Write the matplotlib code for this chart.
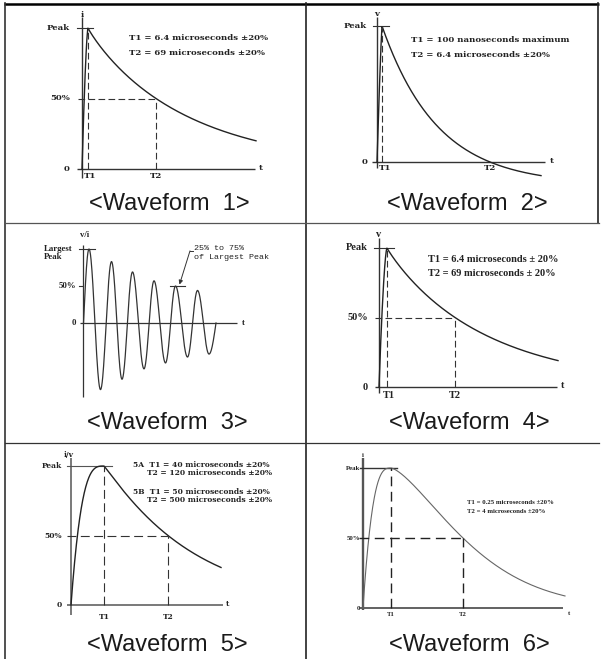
import numpy as np
import matplotlib.pyplot as plt

W, H = 601, 659

# ---- data -------------------------------------------------------------
# t: diagram units measured from the i/v axis, v: fraction of peak
captions = ['<Waveform  1>', '<Waveform  2>', '<Waveform  3>',
            '<Waveform  4>', '<Waveform  5>', '<Waveform  6>']

w1_T1, w1_T2, w1_tend, w1_vend = 6, 74, 174, 0.20
w1_text = ['T1 = 6.4 microseconds ±20%', 'T2 = 69 microseconds ±20%']

w2_T1, w2_T2, w2_tend, w2_vend = 5, 113, 164, -0.10
w2_text = ['T1 = 100 nanoseconds maximum', 'T2 = 6.4 microseconds ±20%']

# ringing wave: zero start, alternating peaks / troughs, zero end
w3_t = [0.5, 6, 17.5, 28.5, 39, 49.5, 61, 71, 82.5, 92.5, 104.5, 114.5, 126, 133]
w3_v = [0, 1.0, -0.90, 0.83, -0.76, 0.69, -0.62, 0.57, -0.54, 0.50, -0.46, 0.44, -0.42, 0]
w3_note = ['25% to 75%', 'of Largest Peak']

w4_T1, w4_T2, w4_tend, w4_vend = 8, 76, 179, 0.19
w4_text = ['T1 = 6.4 microseconds ± 20%', 'T2 = 69 microseconds ± 20%']

w5_T1, w5_T2, w5_tend, w5_vend = 33, 97, 150, 0.27
w5_text = ['5A  T1 = 40 microseconds ±20%', 'T2 = 120 microseconds ±20%',
           '5B  T1 = 50 microseconds ±20%', 'T2 = 500 microseconds ±20%']

w6_T1, w6_T2, w6_tend, w6_vend = 28, 100, 202, 0.086
w6_text = ['T1 = 0.25 microseconds ±20%', 'T2 = 4 microseconds ±20%']

# ---- layout (pixels) --------------------------------------------------
cells = [(5, 4, 306, 223), (306, 4, 598, 223), (5, 223, 306, 443),
         (306, 223, 598, 443), (5, 443, 306, 659), (306, 443, 598, 659)]
origins = [(82, 169), (377, 162), (83, 323), (379, 387), (71, 605), (363, 608)]
peaks_px = [28, 26, 249, 248, 466, 468]
cap_xy = [(169, 204), (467, 204), (167, 423), (469, 423), (167, 645), (469, 645)]

fig = plt.figure(figsize=(W / 100, H / 100), dpi=100)

bg = fig.add_axes([0, 0, 1, 1])
bg.set_xlim(0, W)
bg.set_ylim(H, 0)
bg.axis('off')
bg.plot([4, 599], [4, 4], color='black', lw=1.8, solid_capstyle='butt')
bg.plot([5, 5], [3, H], color='#333', lw=1.2)
bg.plot([306, 306], [3, H], color='#222', lw=1.2)
bg.plot([598, 598], [3, 223], color='#222', lw=1.2)
bg.plot([5, 599], [223, 223], color='#555', lw=0.9)
bg.plot([5, 599], [443, 443], color='#333', lw=0.9)
for (cx, cy), cap in zip(cap_xy, captions):
    bg.text(cx, cy, cap, ha='center', va='center', fontsize=17,
            family='Liberation Sans', color='#1a1a1a')


def make_ax(i):
    l, t, r, b = cells[i]
    ox, oy = origins[i]
    s = oy - peaks_px[i]
    ax = fig.add_axes([l / W, 1 - b / H, (r - l) / W, (b - t) / H])
    ax.set_xlim(l - ox, r - ox)
    ax.set_ylim((oy - b) / s, (oy - t) / s)
    ax.axis('off')
    return ax, s


def pulse(t, T1, T2, tend, vend, k):
    p = np.log(np.log(1 / vend) / np.log(2)) / np.log((tend - T1) / (T2 - T1))
    rise = 1 - np.clip(1 - t / T1, 0, None) ** k
    dec = np.exp(-np.log(2) * (np.clip(t - T1, 0, None) / (T2 - T1)) ** p)
    return np.where(t < T1, rise, dec)


def axes_lines(ax, s, top, bot, x0, x1, color, lwy, lwx):
    ax.plot([0, 0], [top / s, -bot / s], color=color, lw=lwy, solid_capstyle='butt')
    ax.plot([x0, x1], [0, 0], color=color, lw=lwx, solid_capstyle='butt')


def levels(ax, x, labels, vals, **kw):
    for lab, v in zip(labels, vals):
        ax.text(x, v, lab, ha='right', va='center', **kw)


# ---- Waveform 1 -------------------------------------------------------
f1 = dict(family='DejaVu Serif', weight='bold', fontsize=6.1, color='#222')
dash1 = (0, (6, 3))
ax, s = make_ax(0)
axes_lines(ax, s, 152, 9, -5, 173, '#333', 1.0, 1.0)
ax.plot([-5, 11], [1, 1], color='#333', lw=0.8)
t = np.linspace(0, w1_tend, 500)
ax.plot(t, pulse(t, w1_T1, w1_T2, w1_tend, w1_vend, 1.5), color='#222', lw=1.0)
ax.plot([w1_T1, w1_T1], [0, 1], color='#333', lw=0.8, ls=dash1)
ax.plot([-4, w1_T2], [0.5, 0.5], color='#333', lw=0.8, ls=dash1)
ax.plot([w1_T2, w1_T2], [0, 0.5], color='#333', lw=0.8, ls=dash1)
levels(ax, -12, ['Peak', '50%', '0'], [1, 0.5, 0], **f1)
ax.text(0, 1.092, 'i', ha='center', va='center', **f1)
ax.text(179, 0.01, 't', ha='center', va='center', **f1)
ax.text(w1_T1 + 2.5, -0.047, 'T1', ha='center', va='center', **f1)
ax.text(w1_T2, -0.047, 'T2', ha='center', va='center', **f1)
for j, line in enumerate(w1_text):
    ax.text(47, 0.93 - 0.105 * j, line, ha='left', va='center', **f1)

# ---- Waveform 2 -------------------------------------------------------
ax, s = make_ax(1)
axes_lines(ax, s, 145, 6, -5, 168, '#333', 1.0, 1.0)
ax.plot([-4, 12], [1, 1], color='#333', lw=0.8)
taus = np.linspace(20, 200, 3000)
e = np.exp(-(w2_T2 - w2_T1) / taus)
c = e / (1 - e)
err = (1 + c) * np.exp(-(w2_tend - w2_T1) / taus) - c - w2_vend
best = np.argmin(np.abs(err))
tau, cc = taus[best], c[best]
t = np.linspace(0, w2_tend, 500)
v2 = np.where(t < w2_T1, 1 - np.clip(1 - t / w2_T1, 0, None) ** 1.2,
              (1 + cc) * np.exp(-(t - w2_T1) / tau) - cc)
ax.plot(t, v2, color='#222', lw=1.0)
ax.plot([w2_T1, w2_T1], [0, 1], color='#333', lw=0.8, ls=dash1)
levels(ax, -10, ['Peak', '0'], [1, 0], **f1)
ax.text(0, 1.088, 'v', ha='center', va='center', **f1)
ax.text(175, 0.01, 't', ha='center', va='center', **f1)
ax.text(w2_T1 + 3, -0.045, 'T1', ha='center', va='center', **f1)
ax.text(w2_T2, -0.045, 'T2', ha='center', va='center', **f1)
for j, line in enumerate(w2_text):
    ax.text(34, 0.90 - 0.11 * j, line, ha='left', va='center', **f1)

# ---- Waveform 3 -------------------------------------------------------
f3 = dict(family='Liberation Mono', fontsize=6.0, color='#222')
f3l = dict(family='Liberation Serif', weight='bold', fontsize=6.3, color='#222')
ax, s = make_ax(2)
axes_lines(ax, s, 78, 74, -3, 154, '#333', 0.9, 0.9)
ax.plot([-4, 12], [1, 1], color='#333', lw=0.8)
ax.plot([-4, 0], [0.5, 0.5], color='#333', lw=0.8)
tt, vv = [], []
n = len(w3_t)
for j in range(n - 1):
    u = np.linspace(0, 1, 40)
    a, b = w3_v[j], w3_v[j + 1]
    if j == 0:
        seg = b * np.sin(np.pi / 2 * u)
    elif j == n - 2:
        seg = a * np.cos(np.pi / 2 * u)
    else:
        seg = a + (b - a) * (1 - np.cos(np.pi * u)) / 2
    tt.append(w3_t[j] + (w3_t[j + 1] - w3_t[j]) * u)
    vv.append(seg)
ax.plot(np.concatenate(tt), np.concatenate(vv), color='#333', lw=0.9)
ax.plot([87, 102], [0.5, 0.5], color='#333', lw=0.8)
ax.text(-39, 1.0, 'Largest', ha='left', va='center', **f3l)
ax.text(-39, 0.89, 'Peak', ha='left', va='center', **f3l)
levels(ax, -7, ['50%', '0'], [0.5, 0], **f3l)
ax.text(2, 1.19, 'v/i', ha='center', va='center', **f3l)
ax.text(160, 0, 't', ha='center', va='center', **f3l)
ax.text(111, 1.0, w3_note[0], ha='left', va='center', **f3)
ax.text(111, 0.89, w3_note[1], ha='left', va='center', **f3)
ax.plot([110, 107], [0.975, 0.975], color='#333', lw=0.7)
ax.annotate('', xy=(96.5, 0.52), xytext=(107, 0.975),
            arrowprops=dict(arrowstyle='-|>', lw=0.7, color='#333',
                            mutation_scale=6, shrinkA=0, shrinkB=0))

# ---- Waveform 4 -------------------------------------------------------
f4 = dict(family='Liberation Serif', weight='bold', fontsize=7.5, color='#222')
ax, s = make_ax(3)
axes_lines(ax, s, 149, 6, -4, 178, '#333', 1.0, 1.0)
ax.plot([-5, 15], [1, 1], color='#333', lw=0.8)
t = np.linspace(0, w4_tend, 500)
ax.plot(t, pulse(t, w4_T1, w4_T2, w4_tend, w4_vend, 1.6), color='#222', lw=1.0)
ax.plot([w4_T1, w4_T1], [0, 1], color='#333', lw=0.8, ls=dash1)
ax.plot([-4, w4_T2], [0.5, 0.5], color='#333', lw=0.8, ls=dash1)
ax.plot([w4_T2, w4_T2], [0, 0.5], color='#333', lw=0.8, ls=dash1)
levels(ax, -11, ['Peak', '50%', '0'], [1, 0.5, 0], **f4)
ax.text(0, 1.094, 'v', ha='center', va='center', **f4)
ax.text(184, 0.01, 't', ha='center', va='center', **f4)
ax.text(w4_T1 + 1.5, -0.058, 'T1', ha='center', va='center', **f4)
ax.text(w4_T2, -0.058, 'T2', ha='center', va='center', **f4)
for j, line in enumerate(w4_text):
    ax.text(49, 0.92 - 0.10 * j, line, ha='left', va='center', **f4)

# ---- Waveform 5 -------------------------------------------------------
f5 = dict(family='DejaVu Serif', weight='bold', fontsize=6.0, color='#222',
          fontstretch='condensed')
dash5 = (0, (8, 4))
ax, s = make_ax(4)
axes_lines(ax, s, 147, 10, -4, 152, '#555', 1.1, 1.1)
ax.plot([-4, 41], [1, 1], color='#555', lw=0.8)
t = np.linspace(0, w5_tend, 500)
ax.plot(t, pulse(t, w5_T1, w5_T2, w5_tend, w5_vend, 3.2), color='#222', lw=1.0)
ax.plot([w5_T1, w5_T1], [0, 1], color='#333', lw=0.8, ls=dash5)
ax.plot([-4, w5_T2], [0.5, 0.5], color='#333', lw=0.8, ls=dash5)
ax.plot([w5_T2, w5_T2], [0, 0.5], color='#333', lw=0.8, ls=dash5)
levels(ax, -9, ['Peak', '50%', '0'], [1, 0.5, 0], **f5)
ax.text(-2, 1.08, 'i/v', ha='center', va='center', **f5)
ax.text(157, 0.01, 't', ha='center', va='center', **f5)
ax.text(w5_T1, -0.084, 'T1', ha='center', va='center', **f5)
ax.text(w5_T2, -0.084, 'T2', ha='center', va='center', **f5)
for j, line in enumerate(w5_text):
    x = 62 if j % 2 == 0 else 76
    y = [1.007, 0.95, 0.81, 0.755][j]
    ax.text(x, y, line, ha='left', va='center', **f5)

# ---- Waveform 6 -------------------------------------------------------
f6 = dict(family='Liberation Serif', weight='bold', fontsize=4.9, color='#222')
dash6 = (0, (7, 4))
ax, s = make_ax(5)
ax.plot([0, 0], [150 / s, -2 / s], color='#555', lw=1.7, solid_capstyle='butt')
ax.plot([-3, 200], [0, 0], color='#555', lw=1.3, solid_capstyle='butt')
ax.plot([-3, 34], [1, 1], color='#333', lw=1.0)
t = np.linspace(0, w6_tend, 500)
ax.plot(t, pulse(t, w6_T1, w6_T2, w6_tend, w6_vend, 3.0), color='#666', lw=0.8)
ax.plot([w6_T1, w6_T1], [0, 1], color='#222', lw=1.0, ls=dash6)
ax.plot([-4, w6_T2], [0.5, 0.5], color='#222', lw=1.0, ls=dash6)
ax.plot([w6_T2, w6_T2], [0, 0.5], color='#222', lw=1.0, ls=dash6)
levels(ax, -3, ['Peak', '50%', '0'], [1, 0.5, 0], **f6)
ax.text(0, 1.09, 'i', ha='center', va='center', **f6)
ax.text(206, -0.036, 't', ha='center', va='center', **f6)
ax.text(w6_T1, -0.045, 'T1', ha='center', va='center', **f6)
ax.text(w6_T2, -0.045, 'T2', ha='center', va='center', **f6)
for j, line in enumerate(w6_text):
    ax.text(104, 0.75 - 0.06 * j, line, ha='left', va='center', **f6)

fig.savefig('out.png', dpi=100)
